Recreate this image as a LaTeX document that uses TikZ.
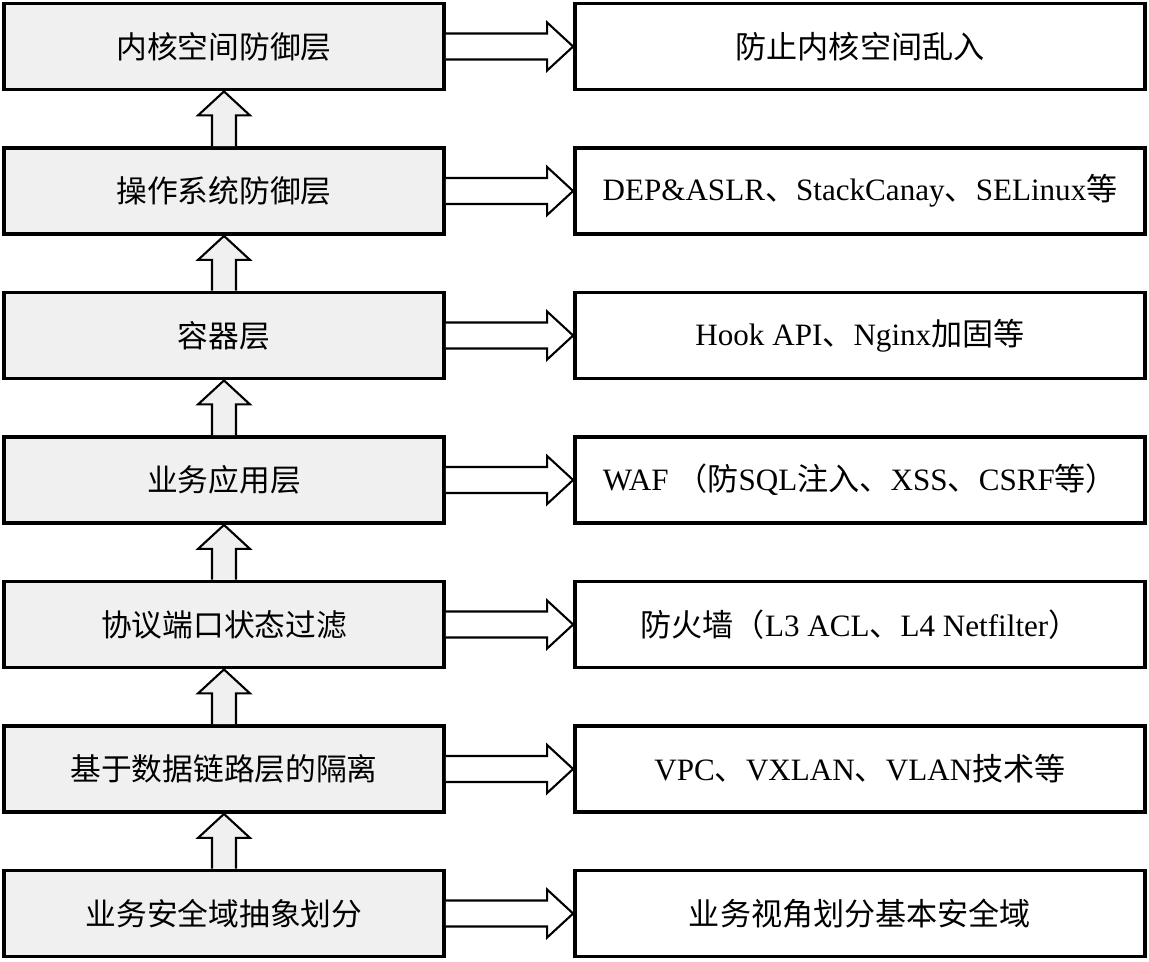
\documentclass[tikz,border=0pt]{standalone}
\usepackage{fontspec}
\setmainfont{Liberation Serif}
\newfontfamily\cjk{Noto Sans CJK SC}
\newcommand\zh[1]{{\cjk #1}}
\usetikzlibrary{calc}
\definecolor{layerfill}{HTML}{F0F0F0}
\tikzset{
  layer/.style={draw, line width=2.2pt, fill=layerfill, minimum width=8.8cm, minimum height=1.72cm, font=\cjk\fontsize{17.5}{20}\selectfont},
  measure/.style={draw, line width=2.2pt, fill=white, minimum width=11.4cm, minimum height=1.72cm, font=\fontsize{17.7}{20}\selectfont},
  blockarrow/.style={draw, line width=1.2pt, line join=miter}
}
\begin{document}
\begin{tikzpicture}[x=0.02cm, y=-0.02cm]
  \useasboundingbox (0,0) rectangle (1149,961);
  \foreach \i/\l/\r in {0/内核空间防御层/\zh{防止内核空间乱入},
      1/操作系统防御层/DEP\&ASLR\zh{、}StackCanay\zh{、}SELinux\zh{等},
      2/容器层/Hook API\zh{、}Nginx\zh{加固等},
      3/业务应用层/WAF \zh{（防}SQL\zh{注入、}XSS\zh{、}CSRF\zh{等）},
      4/协议端口状态过滤/\zh{防火墙（}L3 ACL\zh{、}L4 Netfilter\zh{）},
      5/基于数据链路层的隔离/VPC\zh{、}VXLAN\zh{、}VLAN\zh{技术等},
      6/业务安全域抽象划分/\zh{业务视角划分基本安全域}} {
    \node[layer] (l\i) at (224,{46.5+144.5*\i}) {\l};
    \node[measure] (m\i) at (860,{46.5+144.5*\i}) {\r};
    \draw[blockarrow, fill=white] ($(l\i.east)+(0,-13)$) -- ($(m\i.west)+(-26,-13)$)
      -- ($(m\i.west)+(-26,-24)$) -- (m\i.west) -- ($(m\i.west)+(-26,24)$)
      -- ($(m\i.west)+(-26,13)$) -- ($(l\i.east)+(0,13)$);
  }
  % hollow arrows going up the stack
  \foreach \i in {0,...,5} {
    \pgfmathtruncatemacro\j{\i+1}
    \draw[blockarrow, fill=layerfill] ($(l\j.north)+(-12,0)$) -- ($(l\i.south)+(-12,24)$)
      -- ($(l\i.south)+(-26,24)$) -- (l\i.south) -- ($(l\i.south)+(26,24)$)
      -- ($(l\i.south)+(12,24)$) -- ($(l\j.north)+(12,0)$);
  }
\end{tikzpicture}
\end{document}
